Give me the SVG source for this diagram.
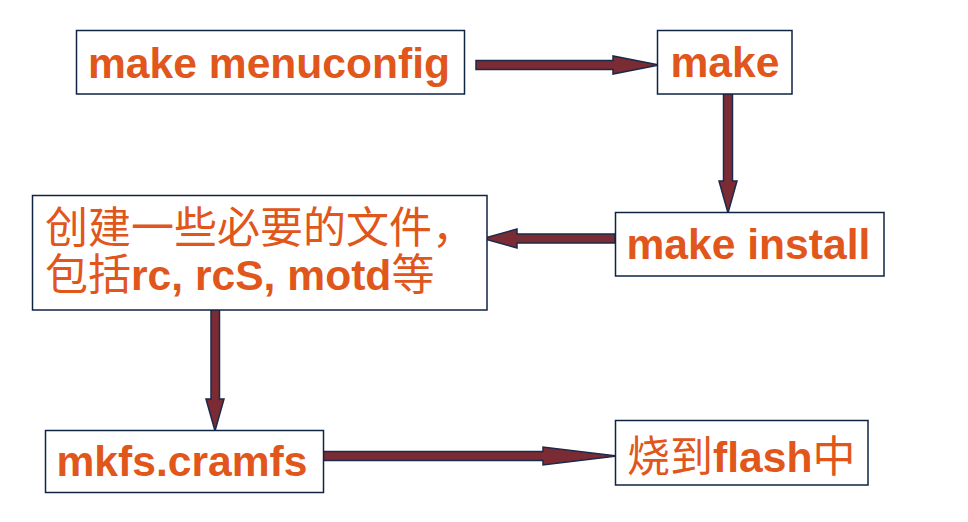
<svg xmlns="http://www.w3.org/2000/svg" width="968" height="522" viewBox="0 0 968 522">
<style>
.box{fill:#fff;stroke:#0f2345;stroke-width:1.5}
.arrow{fill:#7b2b33;stroke:#1b2a4a;stroke-width:1.5;stroke-linejoin:miter}
.t{font-family:"Liberation Sans","Noto Sans CJK SC",sans-serif;font-size:42.6px;fill:#e0561b}
.b{font-weight:bold}
.cjk{font-family:"Noto Sans CJK SC","Liberation Sans",sans-serif;font-weight:normal;font-size:43px}
</style>
<rect width="968" height="522" fill="#fff"/>
<g id="connectors">
<polygon class="arrow" points="476,60.5 613,60.5 613,56 659,65 613,74 613,69.5 476,69.5"/>
<polygon class="arrow" points="723.5,91 732.5,91 732.5,181 737,181 728,213 719,181 723.5,181"/>
<polygon class="arrow" points="615,234 517,234 517,229 483,238.5 517,248 517,243 615,243"/>
<polygon class="arrow" points="211,307 219.5,307 219.5,399 224,399 215,431 206,399 211,399"/>
<polygon class="arrow" points="320,451.5 543,451.5 543,447 617,456 543,465 543,460.5 320,460.5"/>
</g>
<g id="node-menuconfig">
<rect class="box" x="76.5" y="30.5" width="388" height="63.5"/>
<text class="t b" x="88" y="77.5">make menuconfig</text>
</g>
<g id="node-make">
<rect class="box" x="657.5" y="30.5" width="134.5" height="63.5"/>
<text class="t b" x="670.5" y="76.5">make</text>
</g>
<g id="node-install">
<rect class="box" x="615.5" y="212.5" width="268.5" height="63.5"/>
<text class="t b" x="626.5" y="259">make install</text>
</g>
<g id="node-files">
<rect class="box" x="32.5" y="195.5" width="454.5" height="114.5"/>
<text class="t cjk" x="45" y="243">创建一些必要的文件，</text>
<text class="t" x="45" y="290"><tspan class="cjk">包括</tspan><tspan class="b">rc, rcS, motd</tspan><tspan class="cjk">等</tspan></text>
</g>
<g id="node-mkfs">
<rect class="box" x="45.5" y="430.5" width="278" height="62"/>
<text class="t b" x="56.5" y="475.5">mkfs.cramfs</text>
</g>
<g id="node-flash">
<rect class="box" x="615.5" y="420.5" width="252.5" height="64.5"/>
<text class="t" x="627" y="471.5"><tspan class="cjk">烧到</tspan><tspan class="b">flash</tspan><tspan class="cjk">中</tspan></text>
</g>
</svg>
